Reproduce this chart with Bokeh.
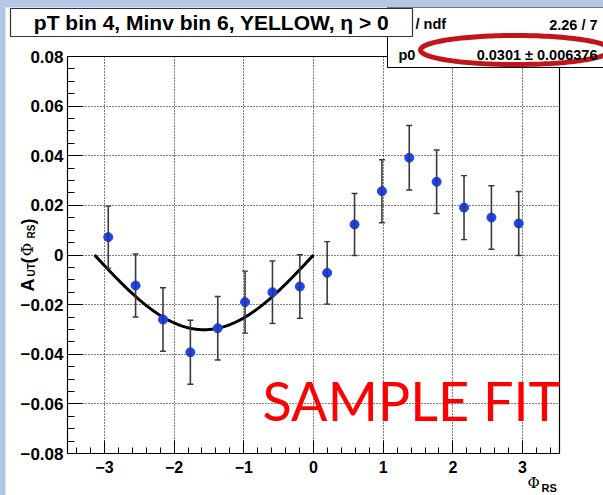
import numpy as np
from bokeh.plotting import figure
from bokeh.layouts import column, row
from bokeh.models import (ColumnDataSource, Whisker, TeeHead, FixedTicker, Label,
                          CustomJSTickFormatter, Spacer)
from bokeh.embed import file_html
from bokeh.resources import INLINE

# ---- data: A_UT vs Phi_RS, 16 bins ----
phi_rs = [-2.945, -2.553, -2.160, -1.767, -1.374, -0.982, -0.589, -0.196,
          0.196, 0.589, 0.982, 1.374, 1.767, 2.160, 2.553, 2.945]
a_ut = [0.0072, -0.0123, -0.0260, -0.0392, -0.0295, -0.0190, -0.0150, -0.0127,
        -0.0072, 0.0123, 0.0257, 0.0392, 0.0295, 0.0191, 0.0151, 0.0127]
a_ut_err = [0.0125, 0.0127, 0.0128, 0.0129, 0.0128, 0.0125, 0.0126, 0.0128,
            0.0126, 0.0125, 0.0127, 0.0130, 0.0128, 0.0129, 0.0128, 0.0129]

# fit result: A_UT = p0 * sin(Phi_RS), drawn over [-pi, 0]
p0 = 0.0301
p0_err = 0.006376
chi2, ndf = 2.26, 7

x_ticks = [-3, -2, -1, 0, 1, 2, 3]
y_ticks = [-0.08, -0.06, -0.04, -0.02, 0, 0.02, 0.04, 0.06, 0.08]

title_text = "pT bin 4, Minv bin 6, YELLOW, \u03b7 > 0"

# ---- page geometry ----
PAGE_W, PAGE_H = 603, 495
OFF_L, OFF_T = 5, 7                      # slide background strip
FL, FR, FT, FB = 67, 559, 56, 453        # axis frame edges on the page
X0, X1 = -3.53, 3.53
Y0, Y1 = -0.08, 0.08


def dx(px):
    return X0 + (px - FL) * (X1 - X0) / (FR - FL)


def dy(py):
    return Y1 - (py - FT) * (Y1 - Y0) / (FB - FT)


FONT = "Liberation Sans"

# the canvas is the whole drawing area; the axes sit at fixed locations inside it
p = figure(width=PAGE_W - OFF_L, height=PAGE_H - OFF_T,
           x_range=(dx(OFF_L), dx(PAGE_W)), y_range=(dy(PAGE_H), dy(OFF_T)),
           output_backend="svg", toolbar_location=None,
           min_border_left=0, min_border_right=0,
           min_border_top=0, min_border_bottom=0)
p.background_fill_color = "white"
p.border_fill_color = "white"
p.outline_line_color = None

# axes
p.xaxis.fixed_location = Y0
p.yaxis.fixed_location = X0
p.xaxis.bounds = (X0, X1)
p.yaxis.bounds = (Y0, Y1)
p.xaxis.ticker = FixedTicker(ticks=x_ticks,
                             minor_ticks=[round(v, 1) for v in np.arange(-3.4, 3.41, 0.2)])
p.yaxis.ticker = FixedTicker(ticks=y_ticks,
                             minor_ticks=[round(v, 3) for v in np.arange(-0.075, 0.0751, 0.005)])
p.xaxis.formatter = CustomJSTickFormatter(code="""
    return tick.toFixed(0).replace('-', '\u2212');
""")
p.yaxis.formatter = CustomJSTickFormatter(code="""
    if (Math.abs(tick) < 1e-9) { return '0'; }
    return tick.toFixed(2).replace('-', '\u2212');
""")
for ax in (p.xaxis[0], p.yaxis[0]):
    ax.axis_line_color = "black"
    ax.major_tick_line_color = "black"
    ax.minor_tick_line_color = "black"
    ax.major_tick_out = 0
    ax.minor_tick_out = 0
    ax.major_label_text_font = FONT
    ax.major_label_text_font_style = "bold"
    ax.major_label_text_color = "black"
p.xaxis.major_tick_in = 13
p.xaxis.minor_tick_in = 6
p.yaxis.major_tick_in = 15
p.yaxis.minor_tick_in = 7
p.xaxis.major_label_text_font_size = "16px"
p.yaxis.major_label_text_font_size = "17px"
p.xaxis.major_label_standoff = 7
p.yaxis.major_label_standoff = 4

# dotted grid at the inner major ticks, limited to the axis frame
grid_y_ticks = [t for t in y_ticks if abs(t) < 0.07]
gx, gy = p.xgrid[0], p.ygrid[0]
if "cross_bounds" in gx.properties():
    gx.ticker = FixedTicker(ticks=x_ticks)
    gy.ticker = FixedTicker(ticks=grid_y_ticks)
    gx.bounds = (X0, X1)
    gy.bounds = (Y0, Y1)
    gx.cross_bounds = (Y0, Y1)
    gy.cross_bounds = (X0, X1)
    for g in (gx, gy):
        g.grid_line_color = "black"
        g.grid_line_dash = "1 2"
        g.grid_line_width = 1
else:
    gx.visible = False
    gy.visible = False
    p.segment(x0=x_ticks, x1=x_ticks, y0=[Y0] * len(x_ticks), y1=[Y1] * len(x_ticks),
              line_color="black", line_dash="1 2", line_width=1)
    p.segment(x0=[X0] * len(grid_y_ticks), x1=[X1] * len(grid_y_ticks),
              y0=grid_y_ticks, y1=grid_y_ticks,
              line_color="black", line_dash="1 2", line_width=1)

# axis frame
p.quad(left=[X0], right=[X1], bottom=[Y0], top=[Y1],
       fill_color=None, line_color="black", line_width=1.2)

# measured points with error bars
src = ColumnDataSource(dict(
    x=phi_rs, y=a_ut,
    lower=[v - e for v, e in zip(a_ut, a_ut_err)],
    upper=[v + e for v, e in zip(a_ut, a_ut_err)],
))
err_col = "#3a3a3a"
p.add_layout(Whisker(base="x", lower="lower", upper="upper", source=src,
                     line_color=err_col, line_width=1.6, level="glyph",
                     upper_head=TeeHead(size=6, line_color=err_col, line_width=1.4),
                     lower_head=TeeHead(size=6, line_color=err_col, line_width=1.4)))

# fitted sine
fit_x = np.linspace(-np.pi, 0, 200)
p.line(fit_x, p0 * np.sin(fit_x), line_color="black", line_width=3)

p.scatter("x", "y", source=src, size=9, fill_color="#1a42ff", line_color="#1a42ff")


def add_text(px, py, text, size, style="bold", font=FONT, angle=0.0,
             align="left", baseline="middle", color="black"):
    p.add_layout(Label(x=dx(px), y=dy(py), text=text, text_font=font,
                       text_font_size=f"{size}px", text_font_style=style,
                       text_color=color, angle=angle, text_align=align,
                       text_baseline=baseline))


def add_box(l, t, r, b, line="black", width=1.0):
    p.quad(left=[dx(l)], right=[dx(r)], top=[dy(t)], bottom=[dy(b)],
           fill_color="white", line_color=line, line_width=width)


# watermark
add_text(262, 400, "SAMPLE FIT", 54, style="normal", font="Lato", color="#ff0000")

# y axis title A_UT(Phi_RS), written bottom to top
half_pi = np.pi / 2
add_text(27, 291, "A", 18, angle=half_pi)
add_text(30.5, 276, "UT", 10, angle=half_pi)
add_text(27, 263, "(", 18, angle=half_pi)
add_text(26, 256, "\u03a6", 17, style="normal", font="DejaVu Serif", angle=half_pi)
add_text(31, 238, "RS", 10, angle=half_pi)
add_text(27, 224, ")", 18, angle=half_pi)

# x axis title Phi_RS
add_text(527, 482, "\u03a6", 15, style="normal", font="DejaVu Serif")
add_text(541, 487.5, "RS", 11)

# statistics box
add_box(387, 7, 612, 67)
add_text(415, 23, "/ ndf", 14.5)
add_text(597, 24, f"{chi2:.2f} / {ndf}", 14.5, align="right")
add_text(398, 54, "p0", 14.5)
add_text(597, 54.5, f"{p0:.4f} \u00b1 {p0_err:.6f}", 14.5, align="right")

# title box
add_box(10, 8, 412, 36, line="#333333", width=1.2)
add_text(211, 22, title_text, 21, align="center")

# highlight ring around the fitted parameter
t = np.linspace(0, 2 * np.pi, 160)
p.line([dx(515 + 95 * np.cos(a)) for a in t], [dy(49.5 + 14.5 * np.sin(a)) for a in t],
       line_color="#c0151b", line_width=5)

layout = column(Spacer(height=OFF_T, width=PAGE_W),
                row(Spacer(width=OFF_L, height=PAGE_H - OFF_T), p),
                styles={"background-color": "#b4c7e7"})

open("out.html", "w").write(file_html(layout, INLINE))
